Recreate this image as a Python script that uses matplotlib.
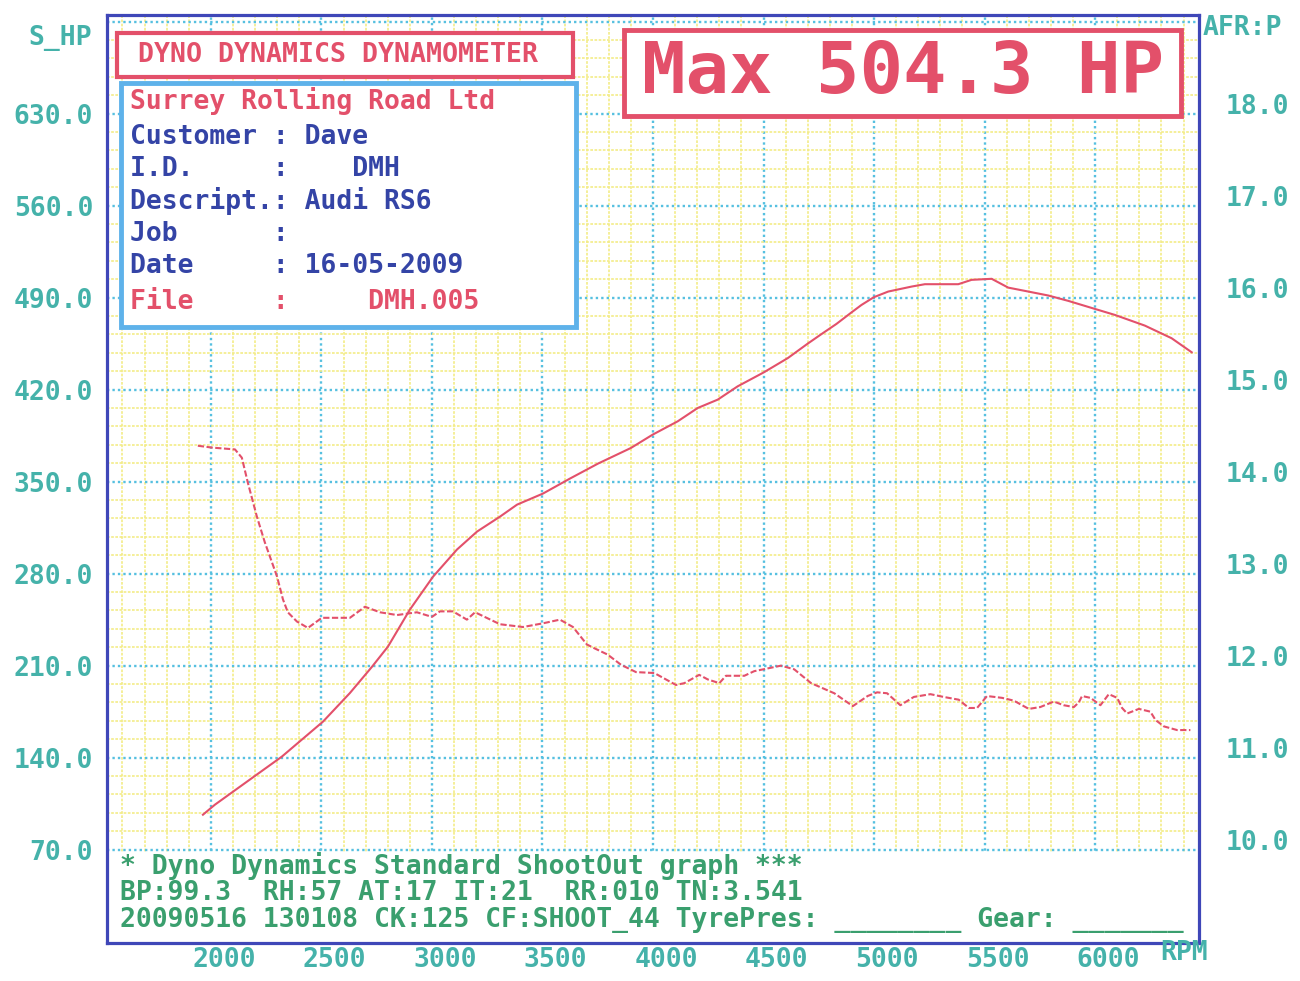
import matplotlib
matplotlib.use('Agg')
import matplotlib.pyplot as plt
from matplotlib.patches import Rectangle
from matplotlib.transforms import ScaledTranslation
import numpy as np

# ---------------- data ----------------
rpm_hp = [1964, 2018, 2176, 2321, 2507, 2629, 2729, 2801, 2900, 3005, 3113, 3204, 3308,
          3385, 3502, 3624, 3751, 3900, 3999, 4112, 4202, 4293, 4383, 4501, 4610, 4700,
          4760, 4830, 4900, 4943, 4999, 5064, 5170, 5230, 5381, 5441, 5532, 5607, 5698,
          5788, 5879, 5999, 6090, 6225, 6346, 6437]
hp = [96.6, 104.2, 123.3, 140.8, 167.4, 189.2, 209.2, 224.5, 252.6, 277.7, 298.3, 312.0,
      323.4, 332.5, 340.9, 352.3, 363.7, 375.6, 385.8, 395.9, 406.0, 412.4, 422.5, 433.1,
      444.0, 455.0, 462.0, 470.0, 479.0, 484.4, 490.3, 494.6, 498.4, 500.2, 500.2, 503.5,
      504.3, 497.6, 494.6, 491.6, 487.5, 481.4, 476.8, 468.7, 459.1, 448.4]

rpm_afr = [1941, 2005, 2109, 2140, 2167, 2208, 2244, 2299, 2326, 2348, 2389, 2439, 2502,
           2629, 2697, 2765, 2842, 2932, 3000, 3036, 3095, 3158, 3195, 3308, 3412, 3502,
           3579, 3638, 3701, 3734, 3795, 3855, 3923, 4006, 4104, 4142, 4209, 4248, 4300,
           4330, 4413, 4458, 4519, 4579, 4639, 4715, 4820, 4904, 4971, 5014, 5059, 5119,
           5180, 5255, 5315, 5383, 5429, 5466, 5511, 5579, 5632, 5700, 5752, 5813, 5858,
           5904, 5926, 5941, 5979, 6024, 6062, 6100, 6122, 6145, 6198, 6250, 6273, 6311,
           6371, 6431]
afr = [14.39, 14.37, 14.35, 14.26, 13.99, 13.62, 13.34, 12.97, 12.72, 12.58, 12.48, 12.41,
       12.52, 12.52, 12.64, 12.58, 12.55, 12.58, 12.53, 12.59, 12.59, 12.50, 12.58, 12.45,
       12.42, 12.46, 12.50, 12.42, 12.23, 12.19, 12.12, 12.01, 11.93, 11.92, 11.79, 11.81,
       11.90, 11.85, 11.81, 11.89, 11.89, 11.94, 11.97, 12.00, 11.96, 11.81, 11.70, 11.56,
       11.67, 11.71, 11.70, 11.57, 11.66, 11.69, 11.66, 11.63, 11.54, 11.54, 11.67, 11.65,
       11.62, 11.53, 11.55, 11.61, 11.57, 11.55, 11.60, 11.67, 11.65, 11.57, 11.69, 11.65,
       11.54, 11.48, 11.53, 11.50, 11.41, 11.34, 11.30, 11.30]

rpm_ticks = [2000, 2500, 3000, 3500, 4000, 4500, 5000, 5500, 6000]
hp_ticks = [70, 140, 210, 280, 350, 420, 490, 560, 630, 700]
afr_ticks = [10, 11, 12, 13, 14, 15, 16, 17, 18]

max_hp_text = "Max 504.3 HP"
title_text = "DYNO DYNAMICS DYNAMOMETER"
info_lines = [
    ("Surrey Rolling Road Ltd", 'red'),
    ("Customer : Dave", 'blue'),
    ("I.D.     :    DMH", 'blue'),
    ("Descript.: Audi RS6", 'blue'),
    ("Job      :", 'blue'),
    ("Date     : 16-05-2009", 'blue'),
    ("File     :     DMH.005", 'red'),
]
footer_lines = [
    "* Dyno Dynamics Standard ShootOut graph ***",
    "BP:99.3  RH:57 AT:17 IT:21  RR:010 TN:3.541",
    "20090516 130108 CK:125 CF:SHOOT_44 TyrePres: ________ Gear: _______",
]

# ---------------- style ----------------
W, H = 1300, 981
RED = '#e3506a'
TEAL = '#45b2aa'
DBLUE = '#3444a6'
FRAME = '#3f47b8'
LBLUE = '#5eb2ea'
GREEN = '#3a9f6e'
MONO = 'DejaVu Sans Mono'

fig = plt.figure(figsize=(13, 9.81), dpi=100)
fig.patch.set_facecolor('white')


def fx(x):
    return x / W


def fy(y):
    return 1 - y / H


L, R, T, B = 107, 1199, 15, 943
ax = fig.add_axes([fx(L), fy(B), fx(R) - fx(L), fy(T) - fy(B)])
x_lo, x_hi = 1530, 6470
y_lo, y_hi = -1, 705
ax.set_xlim(x_lo, x_hi)
ax.set_ylim(y_lo, y_hi)

ax.set_axisbelow(True)
ax.set_xticks(rpm_ticks)
ax.set_xticklabels([str(v) for v in rpm_ticks])
ax.set_xticks(np.arange(1600, 6500, 100), minor=True)
ax.set_yticks(hp_ticks)
ax.set_yticklabels([f"{v:.1f}" if v <= 630 else '' for v in hp_ticks])
ax.set_yticks(np.arange(14, 705, 14), minor=True)

ax.grid(which='minor', color='#f3ec88', linestyle=(0, (1.6, 0.9)), linewidth=1.2)
ax.grid(which='major', color='#56c0e0', linestyle=(0, (1.0, 1.3)), linewidth=1.7)
ax.tick_params(which='both', length=0)
ax.tick_params(axis='y', pad=10, labelcolor=TEAL, labelsize=19)
ax.tick_params(axis='x', pad=3, labelcolor=TEAL, labelsize=19)
for lab in ax.get_xticklabels() + ax.get_yticklabels():
    lab.set_fontfamily(MONO)
    lab.set_fontweight('bold')
for lab in ax.get_xticklabels():
    lab.set_transform(lab.get_transform() + ScaledTranslation(13 / 100, 0, fig.dpi_scale_trans))

for s in ax.spines.values():
    s.set_color(FRAME)
    s.set_linewidth(2.3)

# white area below the 70 line (footer)
ax.axhspan(y_lo, 68.6, facecolor='white', edgecolor='none', zorder=1)

ax.plot(rpm_hp, hp, color=RED, linewidth=1.5, zorder=3)

# AFR on right axis, same grid
ax2 = ax.twinx()
ax2.set_ylim(10 + (y_lo - 70) / 70, 10 + (y_hi - 70) / 70)
ax2.set_yticks(afr_ticks)
ax2.set_yticklabels([f"{v:.1f}" for v in afr_ticks])
ax2.tick_params(length=0, pad=19, labelcolor=TEAL, labelsize=19)
for lab in ax2.get_yticklabels():
    lab.set_fontfamily(MONO)
    lab.set_fontweight('bold')
    lab.set_transform(lab.get_transform() + ScaledTranslation(0, 10 / 100, fig.dpi_scale_trans))
for s in ax2.spines.values():
    s.set_visible(False)
ax2.plot(rpm_afr, afr, color=RED, linewidth=1.5, linestyle=(0, (3.0, 1.2)), zorder=3)

# ---------------- boxes ----------------
def box(x0, y0, x1, y1, ec, lw):
    r = Rectangle((fx(x0), fy(y1)), fx(x1) - fx(x0), fy(y0) - fy(y1),
                  transform=fig.transFigure, facecolor='white', edgecolor=ec,
                  linewidth=lw, zorder=2)
    fig.add_artist(r)


box(117, 33, 573, 77, RED, 3.0)
box(121, 83, 576, 327, LBLUE, 3.5)
box(624, 30, 1181, 116, RED, 3.5)


def ftext(x, y, s, color, size=19, ha='left', weight='bold'):
    fig.text(fx(x), fy(y), s, color=color, fontsize=size, ha=ha, va='center',
             family=MONO, fontweight=weight, zorder=4)


ftext(138, 55, title_text, RED, size=19.2)
ftext(903, 73, max_hp_text, RED, size=52, ha='center')

row_y = [101, 137, 169, 201, 234, 266, 302]
for (s, c), yy in zip(info_lines, row_y):
    ftext(130, yy, s, RED if c == 'red' else DBLUE)

for s, yy in zip(footer_lines, [866, 893, 920]):
    ftext(120, yy, s, GREEN)

ftext(28, 38, "S_HP", TEAL)
ftext(1203, 28, "AFR:P", TEAL)
ftext(1160, 953, "RPM", TEAL)

fig.savefig('out.png', dpi=100, facecolor='white')
